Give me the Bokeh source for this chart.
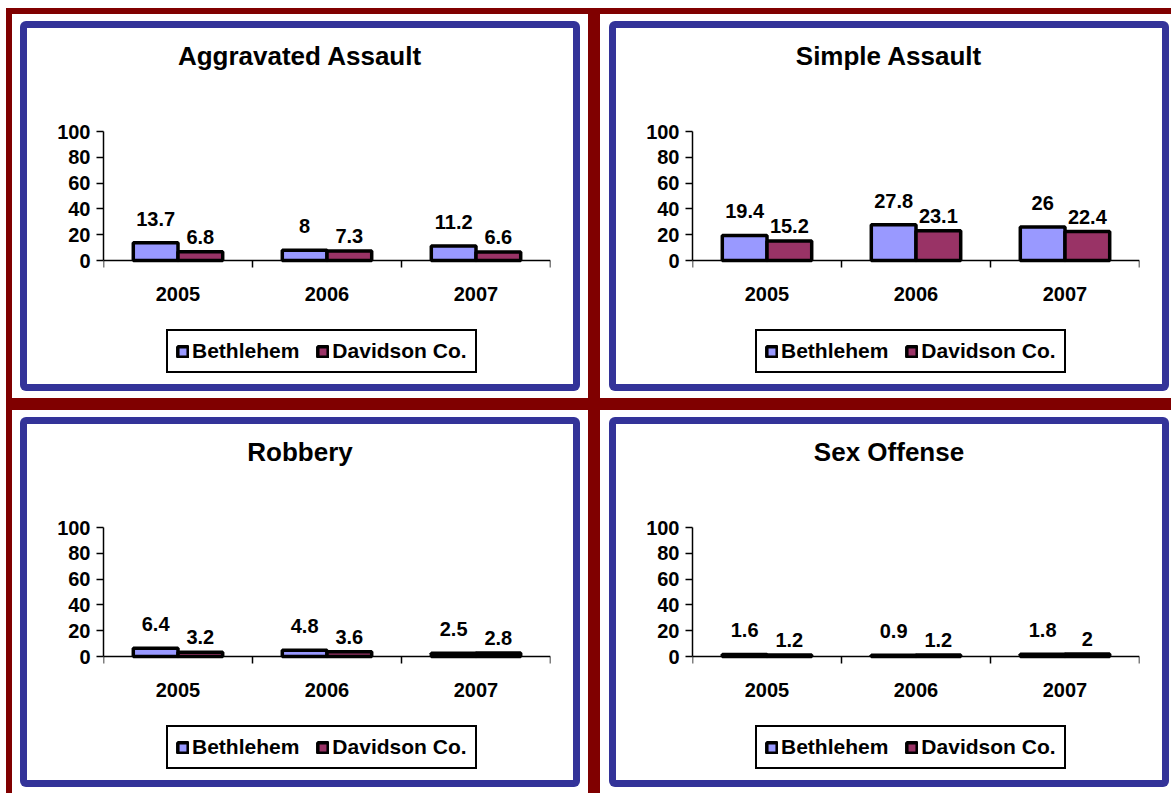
from bokeh.plotting import figure
from bokeh.models import (ColumnDataSource, Range1d, FixedTicker, LabelSet, Label,
                          Legend, LegendItem, Div)
from bokeh.layouts import column, row
from bokeh.transform import dodge
from bokeh.core.properties import value
from bokeh.embed import file_html
from bokeh.resources import INLINE

# ---------------- data ----------------
page_title = "2005-2007"
years = ["2005", "2006", "2007"]
series_names = ["Bethlehem", "Davidson Co."]
panel_titles = ["Aggravated Assault", "Simple Assault", "Robbery", "Sex Offense"]
aggravated_bethlehem = [13.7, 8, 11.2]
aggravated_davidson = [6.8, 7.3, 6.6]
simple_bethlehem = [19.4, 27.8, 26]
simple_davidson = [15.2, 23.1, 22.4]
robbery_bethlehem = [6.4, 4.8, 2.5]
robbery_davidson = [3.2, 3.6, 2.8]
sex_bethlehem = [1.6, 0.9, 1.8]
sex_davidson = [1.2, 1.2, 2]
y_ticks = [0, 20, 40, 60, 80, 100]

# ---------------- style / layout (pixels) ----------------
FONT = "Liberation Sans"
BETH_COLOR = "#9999FF"
DAV_COLOR = "#993366"
MAROON = "#800000"
BLUE = "#333399"

W, H = 546, 356          # canvas inside the blue border
FL, FR = 76, 523         # frame left/right (canvas px)
BOT = 10                 # bottom border below the frame
Y0_PX, Y100_PX = 232, 103   # canvas rows of value 0 and value 100
PX_PER_UNIT = (Y0_PX - Y100_PX) / 100.0
Y_TOP = 100 + Y100_PX / PX_PER_UNIT
Y_BOTTOM = -((H - BOT) - Y0_PX) / PX_PER_UNIT


def make_panel(title, beth, dav):
    n = len(years)
    src = ColumnDataSource(dict(
        x=[i + 0.5 for i in range(n)],
        year=years,
        beth=beth, dav=dav,
        beth_txt=[f"{v:g}" for v in beth],
        dav_txt=[f"{v:g}" for v in dav],
    ))
    p = figure(width=W, height=H, x_range=Range1d(0, n), y_range=Range1d(Y_BOTTOM, Y_TOP),
               output_backend="svg", toolbar_location=None, title=None,
               min_border_left=FL, min_border_right=W - FR,
               min_border_top=0, min_border_bottom=BOT,
               styles={"background-color": "white"})
    p.outline_line_color = None
    p.grid.visible = False
    p.background_fill_color = "white"
    p.border_fill_color = "white"

    rb = p.vbar(x=dodge("x", -0.15, range=p.x_range), top="beth", bottom=0, width=0.3,
                source=src, fill_color=BETH_COLOR, line_color="black", line_width=3.5)
    rd = p.vbar(x=dodge("x", 0.15, range=p.x_range), top="dav", bottom=0, width=0.3,
                source=src, fill_color=DAV_COLOR, line_color="black", line_width=3.5)

    common = dict(text_font=value(FONT), text_font_style="bold", text_font_size="20px",
                  text_align="center", text_baseline="middle", text_color="black")
    p.add_layout(LabelSet(x=dodge("x", -0.15, range=p.x_range), y="beth", text="beth_txt",
                          y_offset=24, source=src, **common))
    p.add_layout(LabelSet(x=dodge("x", 0.15, range=p.x_range), y="dav", text="dav_txt",
                          y_offset=15, source=src, **common))
    # category labels under the axis
    p.add_layout(LabelSet(x="x", y=0, text="year", y_offset=-33, source=src, **common))

    # panel title
    p.add_layout(Label(x=n / 2, y=100, x_offset=-27, y_offset=Y100_PX - 27,
                       text=title, text_align="center", text_baseline="middle",
                       text_font=FONT, text_font_style="bold", text_font_size="26px",
                       text_color="black"))

    xa = p.xaxis[0]
    xa.fixed_location = 0
    xa.bounds = (0, n)
    xa.ticker = FixedTicker(ticks=list(range(n + 1)), minor_ticks=[])
    xa.major_label_overrides = {i: "" for i in range(n + 1)}
    xa.major_label_text_font_size = "0px"
    xa.major_label_standoff = 0
    xa.major_tick_line_color = "black"
    xa.major_tick_line_width = 1.5
    xa.major_tick_out = 7
    xa.major_tick_in = 0
    xa.minor_tick_line_color = None
    xa.axis_line_color = "black"
    xa.axis_line_width = 1.5

    ya = p.yaxis[0]
    ya.bounds = (0, 100)
    ya.ticker = FixedTicker(ticks=y_ticks, minor_ticks=[])
    ya.major_tick_line_color = "black"
    ya.major_tick_line_width = 1.5
    ya.major_tick_out = 7
    ya.major_tick_in = 0
    ya.minor_tick_line_color = None
    ya.axis_line_color = "black"
    ya.axis_line_width = 1.5
    ya.major_label_standoff = 6
    ya.major_label_text_font = FONT
    ya.major_label_text_font_style = "bold"
    ya.major_label_text_font_size = "20px"
    ya.major_label_text_color = "black"

    legend = Legend(items=[LegendItem(label=value(series_names[0]), renderers=[rb]),
                           LegendItem(label=value(series_names[1]), renderers=[rd])],
                    location=(139 - FL, 1), orientation="horizontal",
                    border_line_color="black", border_line_width=2, border_line_alpha=1,
                    background_fill_color="white", background_fill_alpha=1,
                    padding=8, spacing=17, label_standoff=3, margin=0,
                    glyph_width=13, glyph_height=13, label_height=22,
                    label_text_font=FONT, label_text_font_style="bold",
                    label_text_font_size="21px", label_text_color="black")
    p.add_layout(legend)
    return p


p1 = make_panel(panel_titles[0], aggravated_bethlehem, aggravated_davidson)
p2 = make_panel(panel_titles[1], simple_bethlehem, simple_davidson)
p3 = make_panel(panel_titles[2], robbery_bethlehem, robbery_davidson)
p4 = make_panel(panel_titles[3], sex_bethlehem, sex_davidson)


def cell(p, pad):
    framed = column(p, styles={"background-color": BLUE, "padding": "7px",
                               "border-radius": "6px"})
    return column(framed, styles={"background-color": "white", "padding": pad})


grid = column(
    row(cell(p1, "7px 8px 7px 8px"), cell(p2, "7px 2px 7px 9px"), spacing=12),
    row(cell(p3, "7px 8px 6px 8px"), cell(p4, "7px 2px 6px 9px"), spacing=12),
    spacing=12,
    styles={"background-color": MAROON, "padding": "6px 0px 0px 6px"},
)

title_div = Div(text=page_title, width=1165, height=20,
                styles={"text-align": "center", "font-family": FONT, "font-weight": "bold",
                        "font-size": "22px", "line-height": "20px", "color": "black",
                        "width": "1165px"})

root = column(title_div, grid, spacing=0,
              styles={"margin-top": "-22px", "margin-left": "6px", "margin-bottom": "-10px"})

with open("out.html", "w") as f:
    f.write(file_html(root, INLINE))
